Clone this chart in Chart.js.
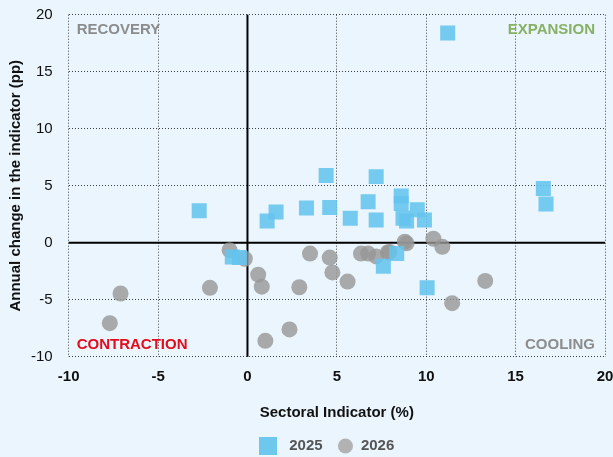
<!DOCTYPE html>
<html>
<head>
<meta charset="utf-8">
<script src="https://cdn.jsdelivr.net/npm/chart.js@4.4.1/dist/chart.umd.min.js"></script>
<style>
  html, body { margin: 0; padding: 0; background: #eaf5fd; }
  #wrap { width: 613px; height: 457px; }
</style>
</head>
<body>
<div id="wrap"><canvas id="chart"></canvas></div>
<script>
// ── Data ───────────────────────────────────────────────────────────────────
const X_2025 = [-2.7, 1.1, 1.6, 3.3, 4.4, 4.6, 5.75, 6.75, 7.2, 7.2, 8.6, 8.6, 9.5, 8.7, 8.9, 9.9, 11.2, 16.55, 16.7, -0.85, -0.45, 8.35, 7.6, 10.05];
const Y_2025 = [2.8, 1.9, 2.7, 3.05, 5.9, 3.1, 2.15, 3.6, 5.8, 2.0, 4.1, 3.45, 2.9, 2.15, 1.9, 2.0, 18.4, 4.75, 3.4, -1.25, -1.3, -0.95, -2.05, -3.95];

const X_2026 = [-1.0, -0.15, 0.6, 0.8, -2.1, -7.1, -7.7, 2.35, 1.0, 2.9, 3.5, 4.6, 4.75, 5.6, 6.35, 6.75, 7.2, 7.85, 7.95, 8.8, 8.9, 10.4, 10.9, 13.3, 11.45];
const Y_2026 = [-0.65, -1.4, -2.8, -3.85, -3.95, -4.45, -7.05, -7.6, -8.6, -3.9, -0.95, -1.3, -2.6, -3.4, -0.95, -0.95, -1.2, -0.85, -0.8, 0.1, -0.05, 0.35, -0.35, -3.35, -5.3];

const SERIES = ['2025', '2026'];
const X_TICKS = [-10, -5, 0, 5, 10, 15, 20];
const Y_TICKS = [-10, -5, 0, 5, 10, 15, 20];
const QUADRANTS = ['RECOVERY', 'EXPANSION', 'CONTRACTION', 'COOLING'];

// ── Style ───────────────────────────────────────────────────────────────────
const BLUE = 'rgba(100,196,238,0.88)';
const GREY = 'rgba(150,150,150,0.8)';
const FONT = 'Liberation Sans';
const GRID = 'rgba(0,0,0,0.75)';

const pairs = (xs, ys) => xs.map((x, i) => ({ x, y: ys[i] }));

// legend swatches: an 18px square, and a 15px circle nudged right
function swatch(kind) {
  const c = document.createElement('canvas');
  if (kind === 'rect') {
    c.width = 18; c.height = 18;
    const g = c.getContext('2d');
    g.fillStyle = 'rgb(110,200,238)';
    g.fillRect(0, 0, 18, 18);
  } else {
    c.width = 26; c.height = 16;
    const g = c.getContext('2d');
    g.fillStyle = 'rgb(178,178,178)';
    g.beginPath(); g.arc(18.5, 8, 7.5, 0, Math.PI * 2); g.fill();
  }
  return c;
}
const SWATCHES = [swatch('rect'), swatch('circle')];

// zero lines + quadrant labels
const quadPlugin = {
  id: 'quad',
  afterLayout(chart) {
    // nudge the legend row under the plot centre
    const lg = chart.legend;
    lg.top += 6.5; lg.bottom += 6.5;
    lg.left += 20; lg.right += 20;
  },
  beforeDatasetsDraw(chart) {
    const { ctx, chartArea: a, scales: { x, y } } = chart;
    ctx.save();
    ctx.strokeStyle = '#000';
    ctx.lineWidth = 2;
    ctx.beginPath();
    const x0 = x.getPixelForValue(0), y0 = y.getPixelForValue(0);
    ctx.moveTo(x0, a.top); ctx.lineTo(x0, a.bottom);
    ctx.moveTo(a.left, y0); ctx.lineTo(a.right, y0);
    ctx.stroke();

    ctx.font = `bold 15px "${FONT}"`;
    ctx.textBaseline = 'middle';
    ctx.textAlign = 'left';
    ctx.fillStyle = '#8c8c8c';
    ctx.fillText(QUADRANTS[0], a.left + 8, a.top + 15);
    ctx.fillStyle = '#e30b1c';
    ctx.fillText(QUADRANTS[2], a.left + 8, a.bottom - 12);
    ctx.textAlign = 'right';
    ctx.fillStyle = '#88b064';
    ctx.fillText(QUADRANTS[1], a.right - 10, a.top + 15);
    ctx.fillStyle = '#8c8c8c';
    ctx.fillText(QUADRANTS[3], a.right - 10, a.bottom - 12);
    ctx.restore();
  },
};

const setTicks = list => s => { s.ticks = list.map(v => ({ value: v })); };

new Chart(document.getElementById('chart').getContext('2d'), {
  type: 'scatter',
  data: {
    datasets: [
      {
        label: SERIES[0], data: pairs(X_2025, Y_2025),
        pointStyle: 'rect', pointRadius: 10.6, pointHoverRadius: 10.6,
        backgroundColor: BLUE, borderWidth: 0,
      },
      {
        label: SERIES[1], data: pairs(X_2026, Y_2026),
        pointStyle: 'circle', pointRadius: 8, pointHoverRadius: 8,
        backgroundColor: GREY, borderWidth: 0,
      },
    ],
  },
  options: {
    responsive: true, maintainAspectRatio: false, animation: false,
    layout: { autoPadding: false, padding: { left: 4, right: 8, top: 14.7, bottom: 0 } },
    plugins: {
      tooltip: { enabled: false },
      legend: {
        position: 'bottom',
        labels: {
          usePointStyle: true, pointStyleWidth: 27, padding: 3.8,
          color: '#555', font: { family: FONT, size: 15, weight: 'bold' },
          generateLabels: chart => chart.data.datasets.map((ds, i) => ({
            text: ds.label, pointStyle: SWATCHES[i], fillStyle: ds.backgroundColor,
            fontColor: '#555', lineWidth: 0, strokeStyle: 'transparent', datasetIndex: i,
          })),
        },
      },
    },
    scales: {
      x: {
        type: 'linear', min: X_TICKS[0], max: X_TICKS[X_TICKS.length - 1],
        afterBuildTicks: setTicks(X_TICKS),
        afterFit: s => { s.height = 71.4; s.paddingLeft = 0; s.paddingRight = 0; },
        ticks: { color: '#111', font: { family: FONT, size: 15, weight: 'bold' }, padding: 11.5 },
        grid: { color: GRID, lineWidth: 1, drawTicks: false },
        border: { display: false, dash: [1, 2] },
        title: {
          display: true, text: 'Sectoral Indicator (%)', color: '#111',
          font: { family: FONT, size: 15, weight: 'bold' }, padding: { top: 0, bottom: 6.7 },
        },
      },
      y: {
        type: 'linear', min: Y_TICKS[0], max: Y_TICKS[Y_TICKS.length - 1],
        afterBuildTicks: setTicks(Y_TICKS),
        afterFit: s => { s.width = 64.7; s.paddingTop = 0; s.paddingBottom = 0; },
        ticks: { color: '#111', font: { family: FONT, size: 15 }, padding: 16 },
        grid: { color: GRID, lineWidth: 1, drawTicks: false },
        border: { display: false, dash: [1, 2] },
        title: {
          display: true, text: 'Annual change in the indicator (pp)', color: '#111',
          font: { family: FONT, size: 15, weight: 'bold' }, padding: { top: 3, bottom: 0 },
        },
      },
    },
  },
  plugins: [quadPlugin],
});
</script>
</body>
</html>
